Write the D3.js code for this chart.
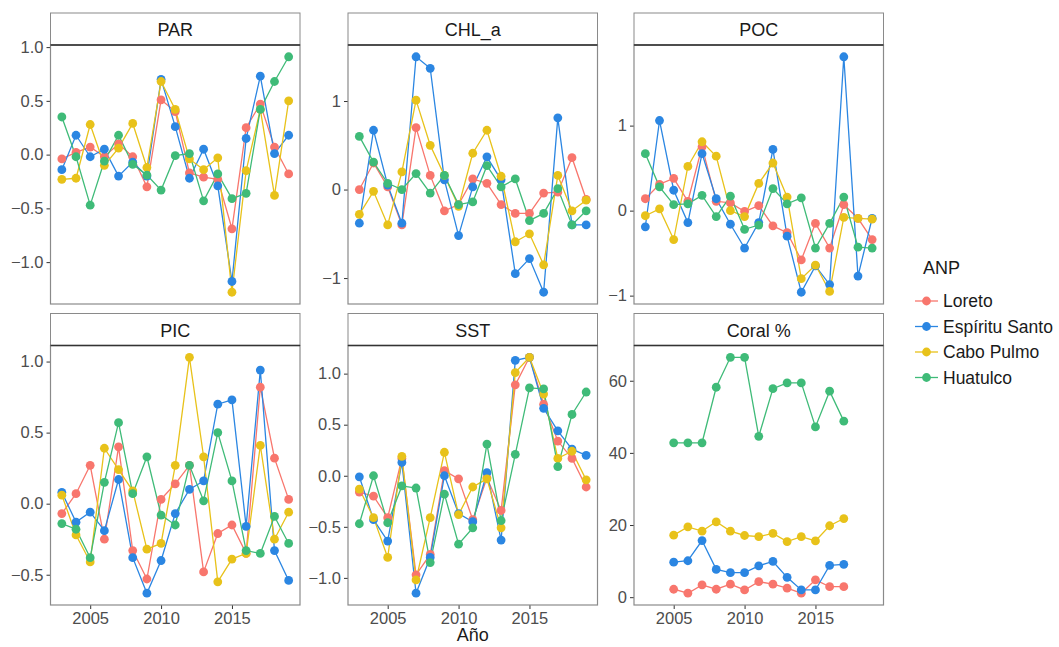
<!DOCTYPE html>
<html><head><meta charset="utf-8">
<script src="https://cdn.jsdelivr.net/npm/d3@7"></script>
<style>body{margin:0;background:#fff} svg{font-family:"Liberation Sans",Arial,Helvetica,sans-serif}</style>
</head><body><svg id="c" width="1059" height="647"></svg>
<script>
// ---------- DATA ----------
const years = [2003,2004,2005,2006,2007,2008,2009,2010,2011,2012,2013,2014,2015,2016,2017,2018,2019];
const coralYears = [2005,2006,2007,2008,2009,2010,2011,2012,2013,2014,2015,2016,2017];
const sites = ["Loreto","Espíritu Santo","Cabo Pulmo","Huatulco"];
const siteColors = ["#f8766d","#2b86e2","#e8c21a","#3fbb78"];
const xTicks = [2005,2010,2015];

const parLoreto   = [-0.04,0.02,0.07,-0.02,0.10,-0.02,-0.30,0.51,0.40,-0.17,-0.21,-0.23,-0.69,0.25,0.47,0.07,-0.18];
const parEspiritu = [-0.14,0.18,-0.02,0.05,-0.20,-0.07,-0.20,0.70,0.26,-0.22,0.05,-0.29,-1.18,0.15,0.73,0.01,0.18];
const parCabo     = [-0.23,-0.22,0.28,-0.10,0.06,0.29,-0.12,0.68,0.42,-0.04,-0.14,-0.03,-1.28,-0.15,0.42,-0.38,0.50];
const parHuatulco = [0.35,-0.02,-0.47,-0.06,0.18,-0.09,-0.19,-0.33,-0.01,0.01,-0.43,-0.18,-0.41,-0.36,0.42,0.68,0.91];
const parTicks = [-1.0,-0.5,0.0,0.5,1.0];

const chlLoreto   = [0.00,0.30,0.03,-0.40,0.70,0.16,-0.24,-0.17,0.12,0.07,-0.17,-0.27,-0.27,-0.04,-0.03,0.36,-0.11];
const chlEspiritu = [-0.38,0.67,0.05,-0.38,1.50,1.37,0.11,-0.52,0.03,0.37,0.11,-0.95,-0.78,-1.16,0.81,-0.40,-0.40];
const chlCabo     = [-0.28,-0.02,-0.40,0.20,1.01,0.50,0.16,-0.19,0.41,0.67,0.15,-0.59,-0.50,-0.85,0.16,-0.24,-0.12];
const chlHuatulco = [0.60,0.31,0.07,0.00,0.18,-0.04,0.16,-0.17,-0.14,0.27,0.03,0.12,-0.35,-0.27,0.01,-0.40,-0.24];
const chlTicks = [-1,0,1];

const pocLoreto   = [0.14,0.31,0.38,0.11,0.75,0.11,0.09,-0.01,0.06,-0.18,-0.26,-0.58,-0.15,-0.44,0.07,-0.09,-0.34];
const pocEspiritu = [-0.19,1.06,0.24,-0.14,0.67,0.14,-0.16,-0.44,-0.14,0.72,-0.30,-0.96,-0.65,-0.87,1.81,-0.77,-0.09];
const pocCabo     = [-0.06,0.02,-0.34,0.52,0.81,0.64,0.00,-0.07,0.32,0.56,0.16,-0.80,-0.64,-0.95,-0.08,-0.09,-0.10];
const pocHuatulco = [0.67,0.28,0.07,0.08,0.18,-0.07,0.17,-0.22,-0.17,0.26,0.08,0.15,-0.44,-0.15,0.16,-0.43,-0.44];
const pocTicks = [-1,0,1];

const picLoreto   = [-0.07,0.07,0.27,-0.25,0.40,-0.33,-0.53,0.03,0.14,0.27,-0.48,-0.21,-0.15,-0.35,0.82,0.32,0.03];
const picEspiritu = [0.08,-0.13,-0.06,-0.19,0.17,-0.38,-0.63,-0.40,-0.07,0.10,0.16,0.70,0.73,-0.16,0.94,-0.33,-0.54];
const picCabo     = [0.06,-0.22,-0.41,0.39,0.24,0.09,-0.32,-0.28,0.27,1.03,0.33,-0.55,-0.39,-0.35,0.41,-0.25,-0.06];
const picHuatulco = [-0.14,-0.18,-0.38,0.15,0.57,0.07,0.33,-0.08,-0.15,0.27,0.02,0.50,0.16,-0.33,-0.35,-0.09,-0.28];
const picTicks = [-0.5,0.0,0.5,1.0];

const sstLoreto   = [-0.16,-0.20,-0.41,0.17,-0.97,-0.77,0.05,-0.03,-0.43,-0.02,-0.34,0.89,1.16,0.70,0.34,0.17,-0.11];
const sstEspiritu = [-0.01,-0.43,-0.64,0.13,-1.15,-0.80,0.00,-0.37,-0.45,0.03,-0.63,1.13,1.16,0.66,0.44,0.26,0.20];
const sstCabo     = [-0.13,-0.41,-0.80,0.19,-1.02,-0.41,0.23,-0.38,-0.11,-0.03,-0.51,1.01,1.16,0.80,0.17,0.24,-0.04];
const sstHuatulco = [-0.47,0.00,-0.46,-0.10,-0.12,-0.85,-0.18,-0.67,-0.51,0.31,-0.44,0.21,0.86,0.85,0.09,0.60,0.82];
const sstTicks = [-1.0,-0.5,0.0,0.5,1.0];

const coralLoreto   = [2.2,1.1,3.4,2.2,3.6,2.0,4.3,3.6,2.5,1.1,4.8,2.9,2.9];
const coralEspiritu = [9.7,10.1,15.7,7.7,6.8,6.8,8.7,9.9,5.5,2.0,2.0,8.8,9.1];
const coralCabo     = [17.2,19.5,18.3,20.9,18.3,17.1,16.8,17.7,15.4,16.8,15.6,19.8,21.8];
const coralHuatulco = [42.8,42.8,42.8,58.2,66.5,66.5,44.6,57.8,59.4,59.4,47.2,57.1,48.8];
const coralTicks = [0,20,40,60];

// ---------- LAYOUT ----------
const svg = d3.select("#c");
const colLeft = [50.5, 348, 634];
const panelW = 249.5;
const stripTop = [13, 313.5];
const stripH = 32;
const plotBottom = [304, 605];

const panels = [
  {title:"PAR", x:years, series:[parLoreto,parEspiritu,parCabo,parHuatulco], ticks:parTicks, fmt:".1f", col:0,row:0},
  {title:"CHL_a", x:years, series:[chlLoreto,chlEspiritu,chlCabo,chlHuatulco], ticks:chlTicks, fmt:"d", col:1,row:0},
  {title:"POC", x:years, series:[pocLoreto,pocEspiritu,pocCabo,pocHuatulco], ticks:pocTicks, fmt:"d", col:2,row:0},
  {title:"PIC", x:years, series:[picLoreto,picEspiritu,picCabo,picHuatulco], ticks:picTicks, fmt:".1f", col:0,row:1},
  {title:"SST", x:years, series:[sstLoreto,sstEspiritu,sstCabo,sstHuatulco], ticks:sstTicks, fmt:".1f", col:1,row:1},
  {title:"Coral %", x:coralYears, series:[coralLoreto,coralEspiritu,coralCabo,coralHuatulco], ticks:coralTicks, fmt:"d", col:2,row:1}
];

const xExt = d3.extent(years);
const xPad = (xExt[1]-xExt[0])*0.05;

panels.forEach(p => {
  const left = colLeft[p.col], right = left + panelW;
  const top = stripTop[p.row] + stripH, bottom = plotBottom[p.row];
  const all = p.series.flat();
  const ext = d3.extent(all);
  const pad = (ext[1]-ext[0])*0.05;
  const x = d3.scaleLinear().domain([xExt[0]-xPad, xExt[1]+xPad]).range([left, right]);
  const y = d3.scaleLinear().domain([ext[0]-pad, ext[1]+pad]).range([bottom, top]);
  const g = svg.append("g");

  // strip
  g.append("rect").attr("x",left).attr("y",stripTop[p.row]).attr("width",panelW).attr("height",stripH)
    .attr("fill","#fff").attr("stroke","#8a8a8a").attr("stroke-width",1);
  g.append("text").attr("x",left+panelW/2).attr("y",stripTop[p.row]+stripH/2+1)
    .attr("text-anchor","middle").attr("dominant-baseline","central")
    .attr("font-size",18).attr("fill","#1a1a1a").text(p.title);

  // y axis
  const ya = g.append("g").attr("transform",`translate(${left},0)`)
    .call(d3.axisLeft(y).tickValues(p.ticks).tickFormat(d3.format(p.fmt)).tickSize(4).tickPadding(3));
  ya.select(".domain").remove();
  ya.selectAll(".tick line").attr("stroke","#333");
  ya.selectAll(".tick text").attr("font-size",16.5).attr("fill","#4d4d4d")
    .attr("font-family",'"Liberation Sans",Arial,sans-serif');

  // x axis (bottom row only)
  if (p.row === 1) {
    const xa = g.append("g").attr("transform",`translate(0,${bottom})`)
      .call(d3.axisBottom(x).tickValues(xTicks).tickFormat(d3.format("d")).tickSize(4).tickPadding(3));
    xa.select(".domain").remove();
    xa.selectAll(".tick line").attr("stroke","#333");
    xa.selectAll(".tick text").attr("font-size",16.5).attr("fill","#4d4d4d")
      .attr("font-family",'"Liberation Sans",Arial,sans-serif');
  }

  // lines then points
  const line = d3.line().x((d,i)=>x(p.x[i])).y(d=>y(d));
  p.series.forEach((s,k) => {
    g.append("path").datum(s).attr("d",line).attr("fill","none")
      .attr("stroke",siteColors[k]).attr("stroke-width",1.3);
  });
  p.series.forEach((s,k) => {
    g.selectAll(null).data(s).enter().append("circle")
      .attr("cx",(d,i)=>x(p.x[i])).attr("cy",d=>y(d)).attr("r",4.4)
      .attr("fill",siteColors[k]);
  });

  // panel border
  g.append("rect").attr("x",left).attr("y",top).attr("width",panelW).attr("height",bottom-top)
    .attr("fill","none").attr("stroke","#8a8a8a").attr("stroke-width",1.2);
  g.append("line").attr("x1",left).attr("x2",right).attr("y1",top).attr("y2",top)
    .attr("stroke","#333").attr("stroke-width",1.5);
});

// x title
svg.append("text").attr("x",colLeft[1]+panelW/2).attr("y",641).attr("text-anchor","middle")
  .attr("font-size",18).attr("fill","#1a1a1a").text("Año");

// legend
const lg = svg.append("g");
lg.append("text").attr("x",923).attr("y",274).attr("font-size",18).attr("fill","#1a1a1a").text("ANP");
const legY = [301, 326.5, 352, 377.5];
sites.forEach((s,k) => {
  lg.append("line").attr("x1",915).attr("x2",938).attr("y1",legY[k]).attr("y2",legY[k])
    .attr("stroke",siteColors[k]).attr("stroke-width",1.3);
  lg.append("circle").attr("cx",926.5).attr("cy",legY[k]).attr("r",4.4).attr("fill",siteColors[k]);
  lg.append("text").attr("x",943).attr("y",legY[k]).attr("dominant-baseline","central")
    .attr("font-size",17.5).attr("fill","#1a1a1a").text(s);
});
</script></body></html>
